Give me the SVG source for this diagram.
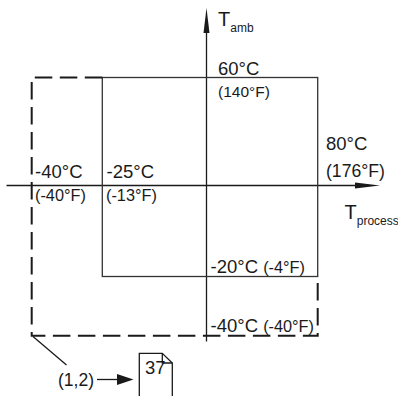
<svg xmlns="http://www.w3.org/2000/svg" width="398" height="396" viewBox="0 0 398 396">
<style>
.t{font-family:"Liberation Sans",Arial,sans-serif;fill:#1a1a1a}
.b{font-size:18.5px}
.s{font-size:16.3px}
.sub{font-size:12px}
.solid{fill:none;stroke:#333;stroke-width:1.3}
.dash{fill:none;stroke:#1a1a1a;stroke-width:2;stroke-dasharray:17.5 7.5}
.ax{stroke:#1a1a1a;stroke-width:1.3;fill:none}
.hd{fill:#1a1a1a}
</style>
<g id="connectors">
<path class="ax" d="M206.5,30 V341.5"/>
<polygon class="hd" points="206.5,8 209.5,33 203.5,33"/>
<path class="ax" d="M6.5,185.5 H358"/>
<polygon class="hd" points="380,185.5 355,182.5 355,188.5"/>
<path class="ax" d="M33,336.5 L66.5,365" stroke-width="1"/>
<path class="ax" d="M97,379.5 H120"/>
<polygon class="hd" points="133.5,379.5 117,374 117,385"/>
</g>
<g id="solid-range">
<rect class="solid" x="102.3" y="77.5" width="215.4" height="199"/>
</g>
<g id="dashed-range">
<path class="dash" d="M102.3,77.5 H31.7 V335.7 H317.7 V276.5"/>
</g>
<g id="axis-amb">
<text class="t" x="218" y="26" font-size="20">T<tspan class="sub" dy="6">amb</tspan></text>
</g>
<g id="axis-process">
<text class="t" x="344.5" y="218.5" font-size="20">T<tspan class="sub" dy="6">process</tspan></text>
</g>
<g id="label-60">
<text class="t b" x="218" y="75">60°C</text>
<text class="t" x="218" y="97" font-size="15.5">(140°F)</text>
</g>
<g id="label-80">
<text class="t b" x="326" y="150">80°C</text>
<text class="t" x="326" y="176.5" font-size="17.6">(176°F)</text>
</g>
<g id="label-m40-left">
<text class="t b" x="35" y="178.3">-40°C</text>
<text class="t s" x="35" y="201">(-40°F)</text>
</g>
<g id="label-m25">
<text class="t b" x="106.5" y="178.3">-25°C</text>
<text class="t s" x="106" y="201">(-13°F)</text>
</g>
<g id="label-m20">
<text class="t b" x="210.5" y="273">-20°C <tspan class="s">(-4°F)</tspan></text>
</g>
<g id="label-m40-bottom">
<text class="t b" x="210.5" y="332">-40°C <tspan class="s">(-40°F)</tspan></text>
</g>
<g id="note">
<text class="t" x="58" y="386" font-size="17.5">(1,2)</text>
</g>
<g id="doc-37">
<path class="ax" d="M139.3,400 V353.3 H162.3 L172.3,363 V400" stroke-width="1.2"/>
<path class="ax" d="M162.3,353.3 V363 H172.3" stroke-width="1"/>
<text class="t" x="145" y="373.5" font-size="18.5">37</text>
</g>
</svg>
